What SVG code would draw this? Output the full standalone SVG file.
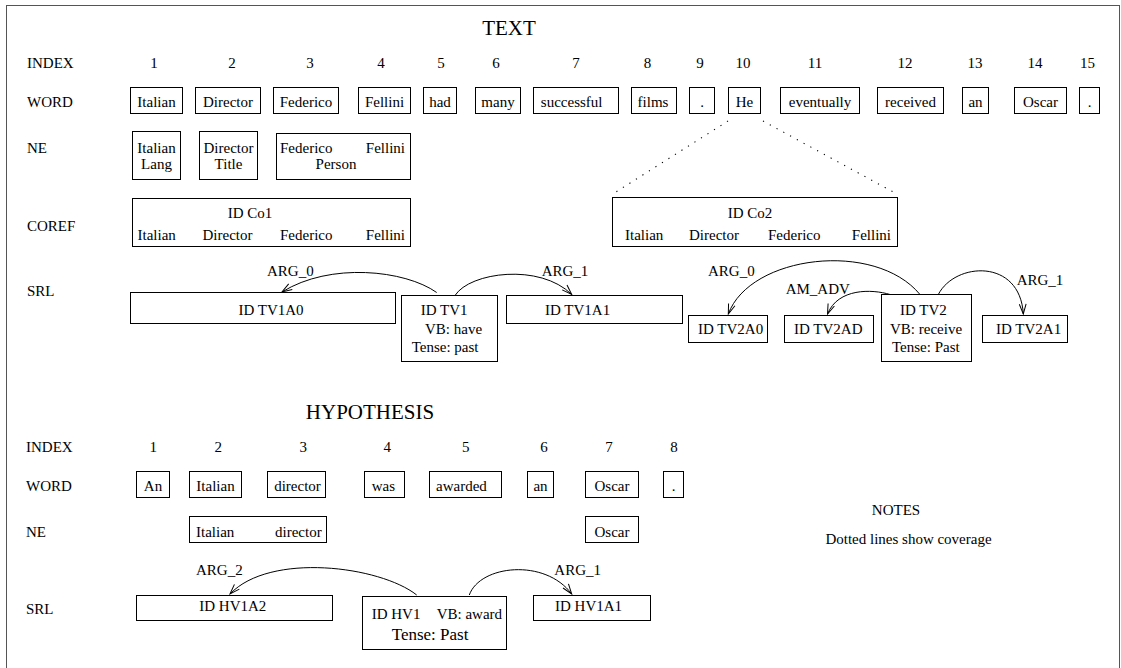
<svg xmlns="http://www.w3.org/2000/svg" width="1121" height="668" viewBox="0 0 1121 668">
<style>
text { font-family: "Liberation Serif", "Times New Roman", serif; font-size: 15px; fill: #000; }
.m { text-anchor: middle; }
.e { text-anchor: end; }
.h { font-size: 21px; }
.big { font-size: 17px; }
rect.b { fill: #fff; stroke: #000; stroke-width: 1; }
.arc { fill: none; stroke: #000; stroke-width: 1; marker-end: url(#ah); }
.dot { fill: none; stroke: #000; stroke-width: 1.1; stroke-dasharray: 1.2 6.5; }
</style>
<defs>
<marker id="ah" markerUnits="userSpaceOnUse" markerWidth="14" markerHeight="10" viewBox="-12 -5 14 10" refX="0" refY="0" orient="auto">
<path d="M-10,-3.4 L0,0 L-10,3.4" fill="none" stroke="#000" stroke-width="1"/>
</marker>
</defs>
<rect x="0" y="0" width="1121" height="668" fill="#fff"/>
<rect x="6.5" y="5.5" width="1113" height="700" fill="none" stroke="#555" stroke-width="1"/>

<g id="labels">
<text class="h m" x="509" y="35">TEXT</text>
<text x="27" y="68">INDEX</text>
<text x="27" y="107">WORD</text>
<text x="27" y="153">NE</text>
<text x="27" y="231">COREF</text>
<text x="27" y="296">SRL</text>
<text class="h m" x="370" y="419">HYPOTHESIS</text>
<text x="26" y="452">INDEX</text>
<text x="26" y="491">WORD</text>
<text x="26" y="537">NE</text>
<text x="26" y="614">SRL</text>
</g>

<g id="text-index">
<text class="m" x="154" y="68">1</text>
<text class="m" x="232" y="68">2</text>
<text class="m" x="310" y="68">3</text>
<text class="m" x="381" y="68">4</text>
<text class="m" x="441" y="68">5</text>
<text class="m" x="496" y="68">6</text>
<text class="m" x="576" y="68">7</text>
<text class="m" x="647.5" y="68">8</text>
<text class="m" x="700" y="68">9</text>
<text class="m" x="743" y="68">10</text>
<text class="m" x="815" y="68">11</text>
<text class="m" x="905" y="68">12</text>
<text class="m" x="975" y="68">13</text>
<text class="m" x="1035" y="68">14</text>
<text class="m" x="1087.5" y="68">15</text>
</g>

<g id="text-words">
<g id="w1"><rect class="b" x="130.5" y="87.5" width="52" height="26"/><text class="m" x="156.5" y="107">Italian</text></g>
<g id="w2"><rect class="b" x="195.5" y="87.5" width="65" height="26"/><text class="m" x="228" y="107">Director</text></g>
<g id="w3"><rect class="b" x="273.5" y="87.5" width="65" height="26"/><text class="m" x="306" y="107">Federico</text></g>
<g id="w4"><rect class="b" x="358.5" y="87.5" width="52" height="26"/><text class="m" x="384.5" y="107">Fellini</text></g>
<g id="w5"><rect class="b" x="423.5" y="87.5" width="33" height="26"/><text class="m" x="440" y="107">had</text></g>
<g id="w6"><rect class="b" x="475.5" y="87.5" width="45" height="26"/><text class="m" x="498" y="107">many</text></g>
<g id="w7"><rect class="b" x="533.5" y="87.5" width="85" height="26"/><text class="m" x="571.7" y="107">successful</text></g>
<g id="w8"><rect class="b" x="631.5" y="87.5" width="45" height="26"/><text class="m" x="653" y="107">films</text></g>
<g id="w9"><rect class="b" x="689.5" y="87.5" width="25" height="26"/><text class="m" x="702" y="107">.</text></g>
<g id="w10"><rect class="b" x="728.5" y="87.5" width="32" height="26"/><text class="m" x="744.5" y="107">He</text></g>
<g id="w11"><rect class="b" x="780.5" y="87.5" width="79" height="26"/><text class="m" x="820" y="107">eventually</text></g>
<g id="w12"><rect class="b" x="877.5" y="87.5" width="66" height="26"/><text class="m" x="910.5" y="107">received</text></g>
<g id="w13"><rect class="b" x="962.5" y="87.5" width="26" height="26"/><text class="m" x="975.5" y="107">an</text></g>
<g id="w14"><rect class="b" x="1014.5" y="87.5" width="52" height="26"/><text class="m" x="1040.5" y="107">Oscar</text></g>
<g id="w15"><rect class="b" x="1079.5" y="87.5" width="20" height="26"/><text class="m" x="1089.5" y="107">.</text></g>
</g>

<g id="text-ne">
<g id="ne1"><rect class="b" x="132.5" y="131.5" width="48" height="48"/><text class="m" x="156.5" y="153">Italian</text><text class="m" x="156.5" y="169">Lang</text></g>
<g id="ne2"><rect class="b" x="199.5" y="131.5" width="58" height="48"/><text class="m" x="228.5" y="153">Director</text><text class="m" x="228.5" y="169">Title</text></g>
<g id="ne3"><rect class="b" x="276.5" y="133.5" width="134" height="46"/><text x="280" y="153">Federico</text><text class="e" x="405" y="153">Fellini</text><text class="m" x="336" y="169">Person</text></g>
</g>

<g id="coref">
<g id="co1"><rect class="b" x="132.5" y="198.5" width="278" height="48"/><text class="m" x="250" y="218">ID Co1</text><text x="137.5" y="240">Italian</text><text x="202.5" y="240">Director</text><text x="280" y="240">Federico</text><text class="e" x="405" y="240">Fellini</text></g>
<g id="co2"><rect class="b" x="612.5" y="197.5" width="285" height="49"/><text class="m" x="750" y="218">ID Co2</text><text x="625" y="240">Italian</text><text x="689" y="240">Director</text><text x="768" y="240">Federico</text><text class="e" x="891" y="240">Fellini</text></g>
</g>

<g id="text-srl">
<g id="tv1a0"><rect class="b" x="130.5" y="292.5" width="265" height="31"/><text class="m" x="271" y="315">ID TV1A0</text></g>
<g id="tv1"><rect class="b" x="401.5" y="295.5" width="96" height="66"/><text x="420.7" y="315">ID TV1</text><text x="425" y="334">VB: have</text><text x="411.7" y="352">Tense: past</text></g>
<g id="tv1a1"><rect class="b" x="506.5" y="295.5" width="176" height="28"/><text x="545" y="315">ID TV1A1</text></g>
<g id="tv2a0"><rect class="b" x="688.5" y="315.5" width="79" height="27"/><text x="698" y="333.5">ID TV2A0</text></g>
<g id="tv2ad"><rect class="b" x="784.5" y="315.5" width="89" height="27"/><text x="794" y="333.5">ID TV2AD</text></g>
<g id="tv2"><rect class="b" x="881.5" y="294.5" width="90" height="67"/><text x="900" y="315">ID TV2</text><text x="890" y="333.5">VB: receive</text><text x="892" y="352">Tense: Past</text></g>
<g id="tv2a1"><rect class="b" x="982.5" y="315.5" width="85" height="27"/><text x="996" y="333.5">ID TV2A1</text></g>
</g>

<g id="hyp-index">
<text class="m" x="153.3" y="452">1</text>
<text class="m" x="218.3" y="452">2</text>
<text class="m" x="303.3" y="452">3</text>
<text class="m" x="387.3" y="452">4</text>
<text class="m" x="465.7" y="452">5</text>
<text class="m" x="544" y="452">6</text>
<text class="m" x="609" y="452">7</text>
<text class="m" x="674" y="452">8</text>
</g>

<g id="hyp-words">
<g id="hw1"><rect class="b" x="136.5" y="471.5" width="33" height="26"/><text class="m" x="153" y="491">An</text></g>
<g id="hw2"><rect class="b" x="189.5" y="471.5" width="52" height="26"/><text class="m" x="215.5" y="491">Italian</text></g>
<g id="hw3"><rect class="b" x="267.5" y="471.5" width="58" height="26"/><text class="m" x="297.5" y="491">director</text></g>
<g id="hw4"><rect class="b" x="364.5" y="471.5" width="40" height="26"/><text x="371.7" y="491">was</text></g>
<g id="hw5"><rect class="b" x="429.5" y="471.5" width="72" height="26"/><text x="436" y="491">awarded</text></g>
<g id="hw6"><rect class="b" x="527.5" y="471.5" width="26" height="26"/><text class="m" x="540.5" y="491">an</text></g>
<g id="hw7"><rect class="b" x="585.5" y="471.5" width="53" height="26"/><text class="m" x="612" y="491">Oscar</text></g>
<g id="hw8"><rect class="b" x="663.5" y="471.5" width="20" height="26"/><text class="m" x="673.5" y="491">.</text></g>
</g>

<g id="hyp-ne">
<g id="hne1"><rect class="b" x="189.5" y="516.5" width="137" height="26"/><text x="196" y="536.5">Italian</text><text class="e" x="321.7" y="536.5">director</text></g>
<g id="hne2"><rect class="b" x="585.5" y="516.5" width="53" height="26"/><text class="m" x="612" y="536.5">Oscar</text></g>
</g>

<g id="hyp-srl">
<g id="hv1a2"><rect class="b" x="136.5" y="595.5" width="196" height="25"/><text x="199.3" y="611">ID HV1A2</text></g>
<g id="hv1"><rect class="b" x="362.5" y="596.5" width="144" height="53"/><text x="371.7" y="619">ID HV1</text><text x="436.7" y="619">VB: award</text><text class="big" x="391.7" y="640">Tense: Past</text></g>
<g id="hv1a1"><rect class="b" x="533.5" y="595.5" width="117" height="25"/><text x="555" y="611">ID HV1A1</text></g>
</g>

<g id="notes">
<text class="m" x="896" y="515">NOTES</text>
<text class="m" x="908.5" y="543.5">Dotted lines show coverage</text>
</g>

<g id="connectors">
<line class="dot" x1="728" y1="121" x2="613.5" y2="193.5"/>
<line class="dot" x1="763" y1="121" x2="896" y2="193.5"/>
<path class="arc" d="M436.7,292.5 C405,270 330,262 282,292"/>
<path class="arc" d="M455,295.5 C470,272 540,263 571.7,294.5"/>
<path class="arc" d="M920,294.5 C875,240 750,255 728.3,314"/>
<path class="arc" d="M890,294.5 C872,289 838,288 827.5,314"/>
<path class="arc" d="M938.3,294.5 C955,262 1020,258 1023.3,314"/>
<path class="arc" d="M416.7,595 C380,566 270,552 230,594"/>
<path class="arc" d="M469.3,595 C480,565 545,558 571.7,594"/>
</g>

<g id="connector-labels">
<text x="267" y="275.7">ARG_0</text>
<text x="541.7" y="275.7">ARG_1</text>
<text x="708" y="275.7">ARG_0</text>
<text x="785.7" y="294.3">AM_ADV</text>
<text x="1016.7" y="285">ARG_1</text>
<text x="196" y="575">ARG_2</text>
<text x="554.3" y="575">ARG_1</text>
</g>
</svg>
